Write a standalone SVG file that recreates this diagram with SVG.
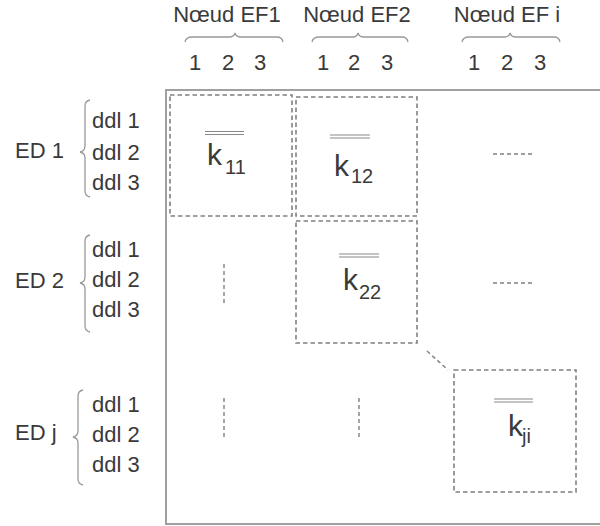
<svg xmlns="http://www.w3.org/2000/svg" width="600" height="526" viewBox="0 0 600 526">
<style>
text{font-family:"Liberation Sans",Arial,sans-serif;fill:#3a3a3a}
.lbl{font-size:22px}
.k{font-size:30px}
.sub{font-size:20px}
.brace{fill:none;stroke:#999;stroke-width:1.3}
.box{fill:none;stroke:#808080;stroke-width:1.6;stroke-dasharray:4.5 3}
.dash{fill:none;stroke:#808080;stroke-width:1.4;stroke-dasharray:4 3}
.bar{fill:none;stroke:#888;stroke-width:1.1}
</style>
<rect width="600" height="526" fill="#fff"/>
<g id="frame"><path d="M620 90H166V524H620" fill="none" stroke="#a0a0a0" stroke-width="2"/></g>
<g id="col-headers">
<text class="lbl" x="227" y="22" text-anchor="middle">Nœud EF1</text>
<text class="lbl" x="357" y="22" text-anchor="middle">Nœud EF2</text>
<text class="lbl" x="507" y="22" text-anchor="middle">Nœud EF i</text>
<path class="brace" d="M185 42Q186 37 192 37H229Q234 37 235 33Q236 37 241 37H277Q282 37 283 42"/>
<path class="brace" d="M312 42Q313 37 319 37H353Q357 37 358 33Q359 37 364 37H402Q407 37 408 42"/>
<path class="brace" d="M462 42Q463 37 469 37H505Q509 37 510 33Q511 37 516 37H554Q559 37 560 42"/>
<text class="lbl" x="195" y="70" text-anchor="middle">1</text>
<text class="lbl" x="228" y="70" text-anchor="middle">2</text>
<text class="lbl" x="260" y="70" text-anchor="middle">3</text>
<text class="lbl" x="323" y="70" text-anchor="middle">1</text>
<text class="lbl" x="354" y="70" text-anchor="middle">2</text>
<text class="lbl" x="387" y="70" text-anchor="middle">3</text>
<text class="lbl" x="474" y="70" text-anchor="middle">1</text>
<text class="lbl" x="507" y="70" text-anchor="middle">2</text>
<text class="lbl" x="540" y="70" text-anchor="middle">3</text>
</g>
<g id="row-ED1">
<text class="lbl" x="15" y="158">ED 1</text>
<path class="brace" d="M90 100Q85 101 85 106V146Q85 151 80 152Q85 153 85 158V191Q85 196 90 197"/>
<text class="lbl" x="92" y="128">ddl 1</text>
<text class="lbl" x="92" y="160">ddl 2</text>
<text class="lbl" x="92" y="190">ddl 3</text>
</g>
<g id="row-ED2">
<text class="lbl" x="15" y="288">ED 2</text>
<path class="brace" d="M90 235Q85 236 85 241V277Q85 282 80 283Q85 284 85 289V326Q85 331 90 332"/>
<text class="lbl" x="92" y="257">ddl 1</text>
<text class="lbl" x="92" y="287">ddl 2</text>
<text class="lbl" x="92" y="317">ddl 3</text>
</g>
<g id="row-EDj">
<text class="lbl" x="15" y="440">ED j</text>
<path class="brace" d="M83 390Q78 391 78 396V431Q78 436 73 437Q78 438 78 443V479Q78 484 83 485"/>
<text class="lbl" x="92" y="412">ddl 1</text>
<text class="lbl" x="92" y="442">ddl 2</text>
<text class="lbl" x="92" y="472">ddl 3</text>
</g>
<g id="k11">
<rect class="box" x="170" y="95" width="122" height="121"/>
<path class="bar" d="M205 131.5H244M205 134.5H244"/>
<text class="k" x="207" y="165">k</text><text class="sub" x="225" y="174">11</text>
</g>
<g id="k12">
<rect class="box" x="296" y="97" width="121" height="119"/>
<path class="bar" d="M330 135H370M330 138H370"/>
<text class="k" x="334" y="176">k</text><text class="sub" x="351" y="183">12</text>
</g>
<g id="k22">
<rect class="box" x="296" y="221" width="121" height="122"/>
<path class="bar" d="M339 254H379M339 257H379"/>
<text class="k" x="343" y="290">k</text><text class="sub" x="359" y="299">22</text>
</g>
<g id="kji">
<rect class="box" x="454" y="370" width="122" height="122"/>
<path class="bar" d="M494 399H533M494 402H533"/>
<text class="k" x="508" y="436">k</text><text class="sub" x="522" y="443">ji</text>
</g>
<g id="connectors">
<path class="dash" d="M493 154H534"/>
<path class="dash" d="M493 283H534"/>
<path class="dash" d="M224 264V304"/>
<path class="dash" d="M224 398V438"/>
<path class="dash" d="M359 398V438"/>
<path class="dash" d="M427 351L448 370"/>
</g>
</svg>
